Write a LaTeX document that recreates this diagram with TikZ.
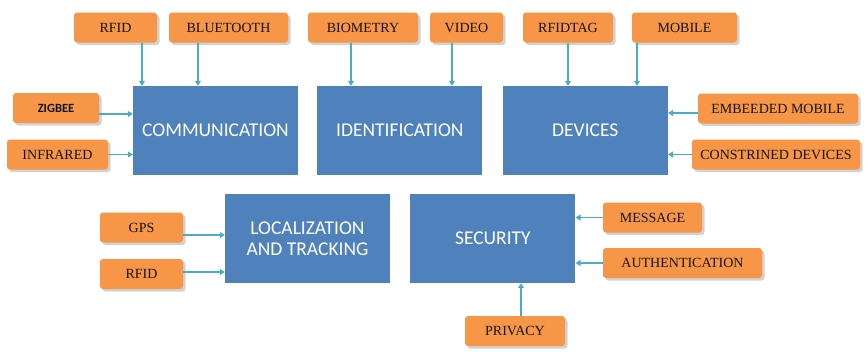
\documentclass[tikz,border=0pt]{standalone}
\usepackage{fontspec}
\setmainfont{Liberation Serif}
\newfontfamily\carlito{Carlito}
\usetikzlibrary{positioning,arrows.meta,shadows}
\definecolor{boxblue}{HTML}{4F81BD}
\definecolor{techorange}{HTML}{F79646}
\definecolor{feedteal}{HTML}{4BACC6}

\begin{document}
\begin{tikzpicture}[x=1pt,y=-1pt,
  areabox/.style={fill=boxblue,text=white,minimum width=165pt,minimum height=89pt,inner sep=0pt,align=center,font=\carlito\fontsize{19.5}{21}\selectfont},
  techbox/.style={fill=techorange,rounded corners=3pt,minimum height=30pt,inner sep=0pt,text=black!92,font=\fontsize{14}{16}\selectfont,drop shadow={shadow xshift=2.5pt,shadow yshift=-2.5pt,fill=black!35,opacity=0.5}},
  feed/.style={draw=feedteal,line width=1.3pt,-{Triangle[width=6pt,length=5pt]}}]
\useasboundingbox[fill=white] (0,0) rectangle (868,351);

% main areas
\node[areabox] (comm) at (215.5,130.5) {COMMUNICATION};
\node[areabox,right=19pt of comm] (ident) {IDENTIFICATION};
\node[areabox,right=20pt of ident] (dev) {DEVICES};
\node[areabox] (loc) at (307.5,238.5) {LOCALIZATION\\AND TRACKING};
\node[areabox,right=20pt of loc] (sec) {SECURITY};

% technologies
\node[techbox,minimum width=83pt] (rfid) at (115.5,27.5) {RFID};
\node[techbox,minimum width=119pt] (bt) at (228.5,27.5) {BLUETOOTH};
\node[techbox,minimum width=86pt,font=\carlito\bfseries\fontsize{12.5}{14}\selectfont] (zig) at (56,108) {ZIGBEE};
\node[techbox,minimum width=101pt] (ir) at (57.5,154.5) {INFRARED};
\node[techbox,minimum width=110pt] (bio) at (363,27.5) {BIOMETRY};
\node[techbox,minimum width=73pt] (video) at (466.5,27.5) {VIDEO};
\node[techbox,minimum width=90pt] (rtag) at (568,27.5) {RFIDTAG};
\node[techbox,minimum width=105pt] (mob) at (684.5,27.5) {MOBILE};
\node[techbox,minimum width=160pt] (emb) at (778,108.5) {EMBEEDED MOBILE};
\node[techbox,minimum width=168pt] (cons) at (776,154.5) {CONSTRINED DEVICES};
\node[techbox,minimum width=83pt] (gps) at (141.5,227.5) {GPS};
\node[techbox,minimum width=83pt] (rfidb) at (141.5,274) {RFID};
\node[techbox,minimum width=99pt] (msg) at (652.5,217.5) {MESSAGE};
\node[techbox,minimum width=159pt] (auth) at (682.5,263) {AUTHENTICATION};
\node[techbox,minimum width=100pt] (priv) at (515,331) {PRIVACY};

% arrows into the areas
\draw[feed] ([xshift=26.5pt]rfid.south) -- ([xshift=26.5pt]rfid.south |- comm.north);
\draw[feed] ([xshift=-30.5pt]bt.south) -- ([xshift=-30.5pt]bt.south |- comm.north);
\draw[feed] ([yshift=-6pt]zig.east) -- ([yshift=-6pt]zig.east -| comm.west);
\draw[feed] (ir.east) -- (ir.east -| comm.west);
\draw[feed] ([xshift=-12pt]bio.south) -- ([xshift=-12pt]bio.south |- ident.north);
\draw[feed] ([xshift=-14.5pt]video.south) -- ([xshift=-14.5pt]video.south |- ident.north);
\draw[feed] (rtag.south) -- (rtag.south |- dev.north);
\draw[feed] ([xshift=-47.5pt]mob.south) -- ([xshift=-47.5pt]mob.south |- dev.north);
\draw[feed] ([yshift=-4.5pt]emb.west) -- ([yshift=-4.5pt]emb.west -| dev.east);
\draw[feed] (cons.west) -- (cons.west -| dev.east);
\draw[feed] ([yshift=-7.5pt]gps.east) -- ([yshift=-7.5pt]gps.east -| loc.west);
\draw[feed] ([yshift=2pt]rfidb.east) -- ([yshift=2pt]rfidb.east -| loc.west);
\draw[feed] (msg.west) -- (msg.west -| sec.east);
\draw[feed] (auth.west) -- (auth.west -| sec.east);
\draw[feed] ([xshift=6pt]priv.north) -- ([xshift=6pt]priv.north |- sec.south);
\end{tikzpicture}
\end{document}
